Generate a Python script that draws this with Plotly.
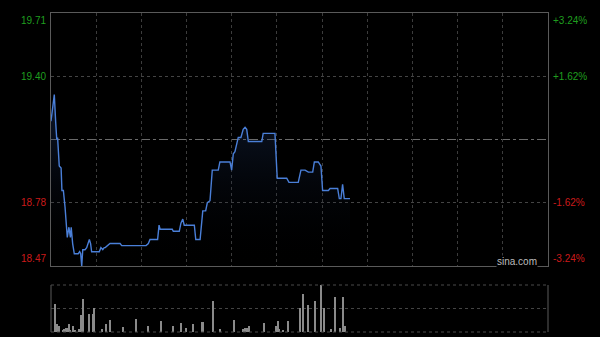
import plotly.graph_objects as go

# ---- data ----
t_min = [0, 1.6, 2.3, 2.8, 3.2, 3.5, 4.0, 4.9, 5.3, 6.0, 6.8, 7.9, 8.7, 9.4, 9.8, 10.5, 11.3,
         13.2, 13.9, 14.4, 14.9, 15.4, 16.5, 17.3, 18.6, 19.2, 19.7, 23.4, 24.2, 25.1, 25.8,
         26.3, 28.6, 33.5, 34.3, 46.1, 47.2, 48.0, 51.7, 52.4, 52.9, 58.8, 59.3, 62.2, 63.0,
         63.9, 64.6, 69.5, 70.2, 72.3, 73.6, 75.0, 75.8, 77.1, 78.2, 81.1, 81.9, 86.8, 87.6,
         88.4, 89.2, 90.8, 92.1, 93.2, 94.1, 94.9, 95.7, 102.2, 102.9, 108.6, 109.7, 114.3,
         115.4, 119.9, 121.2, 123.2, 124.8, 126.9, 127.7, 129.6, 130.9, 131.7, 134.5, 135.3,
         136.9, 138.1, 139.0, 139.8, 140.6, 141.4, 142.2, 145.0]
price = [19.18, 19.31, 19.17, 19.09, 19.10, 19.05, 18.96, 18.95, 18.84, 18.84, 18.76, 18.61,
         18.66, 18.61, 18.66, 18.58, 18.53, 18.53, 18.54, 18.53, 18.47, 18.55, 18.55, 18.56,
         18.60, 18.58, 18.54, 18.54, 18.56, 18.55, 18.56, 18.56, 18.58, 18.58, 18.57, 18.57,
         18.58, 18.60, 18.60, 18.67, 18.65, 18.65, 18.64, 18.64, 18.68, 18.70, 18.67, 18.67,
         18.60, 18.60, 18.74, 18.74, 18.78, 18.79, 18.94, 18.94, 18.98, 18.98, 18.94, 19.02,
         19.03, 19.10, 19.10, 19.14, 19.15, 19.14, 19.08, 19.08, 19.12, 19.12, 18.90, 18.90,
         18.88, 18.88, 18.94, 18.94, 18.93, 18.93, 18.98, 18.98, 18.96, 18.84, 18.84, 18.85,
         18.85, 18.85, 18.85, 18.80, 18.80, 18.87, 18.80, 18.80]

vol_t = [2.1, 2.4, 3.2, 3.9, 6.0, 6.5, 7.1, 7.6, 8.6, 9.5, 10.8, 11.8, 13.7, 14.7, 15.4, 15.8,
         18.3, 18.6, 20.2, 20.9, 24.6, 26.8, 28.9, 34.9, 41.4, 47.2, 53.5, 59.3, 63.2, 65.3,
         69.0, 73.4, 74.0, 78.6, 82.1, 88.6, 93.4, 94.2, 94.9, 95.9, 103.1, 109.0, 109.9,
         110.4, 112.7, 115.2, 120.9, 122.4, 124.9, 128.2, 130.9, 132.4, 135.9, 138.0, 140.3,
         141.7, 142.7]
vol = [590, 140, 160, 130, 40, 70, 90, 90, 160, 50, 130, 40, 70, 360, 360, 710, 70, 390, 390,
       500, 60, 160, 250, 110, 270, 130, 230, 130, 190, 90, 160, 210, 210, 660, 60, 250, 70,
       90, 90, 130, 190, 130, 230, 70, 40, 230, 500, 810, 570, 660, 1000, 500, 60, 750, 90,
       750, 130]

prev_close = 19.09
y_top, y_bottom = 19.71, 18.47
price_ticks = [19.71, 19.40, 18.78, 18.47]
price_labels = ["19.71", "19.40", "18.78", "18.47"]
pct_labels = ["+3.24%", "+1.62%", "-1.62%", "-3.24%"]

T_END = 241
GREEN = "#1f9e1f"
RED = "#cc1a1a"
FONT = "Liberation Sans, Arial, sans-serif"

fig = go.Figure()
fig.add_trace(go.Scatter(
    x=t_min, y=price, mode="lines",
    line=dict(color="#4a7fd8", width=1.4),
    fill="tozeroy",
    fillgradient=dict(type="vertical", start=y_bottom, stop=max(price),
                      colorscale=[[0, "rgba(0,0,0,0)"], [1, "rgba(40,70,130,0.35)"]]),
    xaxis="x", yaxis="y", hoverinfo="skip"))

fig.add_trace(go.Bar(
    x=vol_t, y=vol, width=0.6, marker=dict(color="#8a8a8a", line=dict(width=0)),
    xaxis="x2", yaxis="y2", hoverinfo="skip"))

grid_x = [T_END * k / 11 for k in range(1, 11)]

fig.update_layout(
    width=600, height=337,
    margin=dict(l=51, r=52, t=13, b=5),
    paper_bgcolor="#000000", plot_bgcolor="#000000",
    showlegend=False,
    font=dict(family=FONT, size=10, color="#aaaaaa"),
    xaxis=dict(domain=[0, 1], range=[0, T_END], tickvals=grid_x, showticklabels=False,
               showgrid=True, gridcolor="#3c3c3c", griddash="dot", gridwidth=1,
               zeroline=False, showline=True, mirror=True, linecolor="#5a5a5a", linewidth=1,
               ticks="", anchor="y"),
    yaxis=dict(domain=[0.2069, 1], range=[y_bottom, y_top], tickvals=[19.40, 18.78],
               showticklabels=False, showgrid=True, gridcolor="#444444", griddash="dot",
               zeroline=False, showline=True, mirror=True, linecolor="#5a5a5a", linewidth=1,
               ticks="", anchor="x"),
    xaxis2=dict(domain=[0, 1], range=[0, T_END], showticklabels=False, showgrid=False,
                zeroline=False, showline=False, ticks="", anchor="y2"),
    yaxis2=dict(domain=[0, 0.1473], range=[0, max(vol)], tickvals=[max(vol) / 2],
                showticklabels=False, showgrid=True, gridcolor="#444444", griddash="dot",
                zeroline=False, showline=False, ticks="", anchor="x2"),
    bargap=0,
)

# previous-close midline
fig.add_shape(type="line", xref="paper", x0=0, x1=1, yref="y", y0=prev_close, y1=prev_close,
              line=dict(color="#6a6a6a", width=1, dash="dashdot"), layer="below")

# volume frame
for x in (0, 1):
    fig.add_shape(type="line", xref="paper", x0=x, x1=x, yref="y2 domain", y0=0, y1=1,
                  line=dict(color="#5a5a5a", width=1))
for y in (0, 1):
    fig.add_shape(type="line", xref="paper", x0=0, x1=1, yref="y2 domain", y0=y, y1=y,
                  line=dict(color="#4a4a4a", width=1, dash="dot"))

# axis labels
for i, (v, lab, pct) in enumerate(zip(price_ticks, price_labels, pct_labels)):
    col = GREEN if v > prev_close else RED
    ya = "top" if i == 0 else ("bottom" if i == len(price_ticks) - 1 else "middle")
    fig.add_annotation(xref="paper", x=0, xanchor="right", xshift=-3, yref="y", y=v,
                       yanchor=ya, text=lab, showarrow=False,
                       font=dict(family=FONT, size=10, color=col))
    fig.add_annotation(xref="paper", x=1, xanchor="left", xshift=3, yref="y", y=v,
                       yanchor=ya, text=pct, showarrow=False,
                       font=dict(family=FONT, size=10, color=col))

fig.add_annotation(xref="paper", x=1, xanchor="right", xshift=-10, yref="y", y=y_bottom,
                   yanchor="bottom", yshift=-2, text="sina.com", showarrow=False,
                   bgcolor="#000000", borderpad=0,
                   font=dict(family=FONT, size=10, color="#bdbdbd"))

fig.write_html("out.html")
